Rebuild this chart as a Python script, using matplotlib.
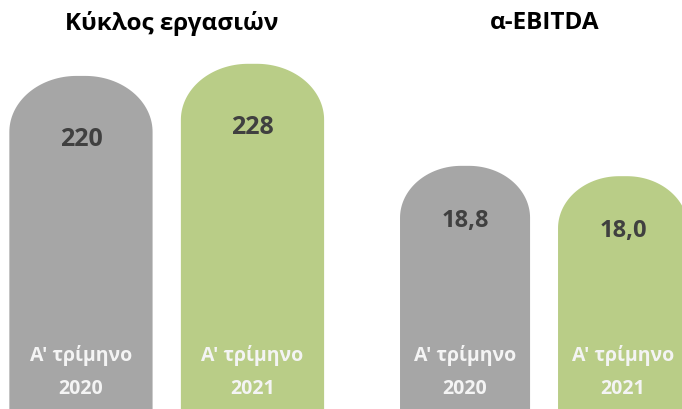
import numpy as np
import matplotlib
matplotlib.use("Agg")
import matplotlib.pyplot as plt
from matplotlib.path import Path
from matplotlib.patches import PathPatch

plt.rcParams['font.family'] = ['Open Sans', 'DejaVu Sans']

# ---- data ----
panel_titles = ["Κύκλος εργασιών", "α-EBITDA"]
quarter_label = "Α' τρίμηνο"
years = ["2020", "2021"]
revenue = [220, 228]
ebitda = [18.8, 18.0]
value_text_rev = ["220", "228"]
value_text_ebitda = ["18,8", "18,0"]

colors = ["#a6a6a6", "#b9cd87"]

fig = plt.figure(figsize=(6.82, 4.10), dpi=100)
ax1 = fig.add_axes([0.0, 0.0, 0.5, 1.0])
ax2 = fig.add_axes([0.5, 0.0, 0.5, 1.0])


def rounded_top(ax, rect, color, rx_frac, ry_px):
    x0 = rect.get_x()
    w = rect.get_width()
    h = rect.get_height()
    y_lo, y_hi = ax.get_ylim()
    ax_h_px = ax.get_window_extent().height
    ry = ry_px * (y_hi - y_lo) / ax_h_px
    rx = rx_frac * w
    t1 = np.linspace(np.pi, np.pi / 2, 40)
    t2 = np.linspace(np.pi / 2, 0, 40)
    left = np.column_stack([x0 + rx + rx * np.cos(t1), h - ry + ry * np.sin(t1)])
    right = np.column_stack([x0 + w - rx + rx * np.cos(t2), h - ry + ry * np.sin(t2)])
    pts = np.vstack([[x0, 0], left, right, [x0 + w, 0], [x0, 0]])
    codes = [Path.MOVETO] + [Path.LINETO] * (len(pts) - 2) + [Path.CLOSEPOLY]
    patch = PathPatch(Path(pts, codes), facecolor=color, edgecolor='none')
    ax.add_patch(patch)


def draw_panel(ax, values, texts, title, xlim, ylim, width, rx_frac, ry_px,
               val_off, val_size, title_x):
    ax.set_xlim(*xlim)
    ax.set_ylim(*ylim)
    ax.axis('off')
    x = np.arange(len(values))
    bars = ax.bar(x, values, width=width, color=colors)
    for b, c in zip(bars, colors):
        b.set_visible(False)
        rounded_top(ax, b, c, rx_frac, ry_px)
    for xi, v, t in zip(x, values, texts):
        ax.annotate(t, xy=(xi, v), xytext=(0, -val_off), textcoords='offset pixels',
                    ha='center', va='center', fontsize=val_size, fontweight='bold',
                    color='#404040')
        ax.annotate(quarter_label, xy=(xi, 0), xytext=(0, 54), textcoords='offset pixels',
                    ha='center', va='center', fontsize=14, fontweight='bold',
                    color='#f4f4f4')
    for xi, yr in zip(x, years):
        ax.annotate(yr, xy=(xi, 0), xytext=(0, 21), textcoords='offset pixels',
                    ha='center', va='center', fontsize=14, fontweight='bold',
                    color='#f4f4f4')
    ax.text(title_x, 0.943, title, transform=ax.transAxes, ha='center',
            va='center', fontsize=17.5, fontweight='bold', color='black')


draw_panel(ax1, revenue, value_text_rev, panel_titles[0],
           xlim=(-0.472, 1.516), ylim=(0, 270.8), width=0.835,
           rx_frac=0.47, ry_px=56, val_off=63, val_size=18, title_x=0.503)
draw_panel(ax2, ebitda, value_text_ebitda, panel_titles[1],
           xlim=(-0.785, 1.373), ylim=(0, 31.7), width=0.823,
           rx_frac=0.47, ry_px=52, val_off=54, val_size=17, title_x=0.596)

fig.savefig("out.png", dpi=100)
